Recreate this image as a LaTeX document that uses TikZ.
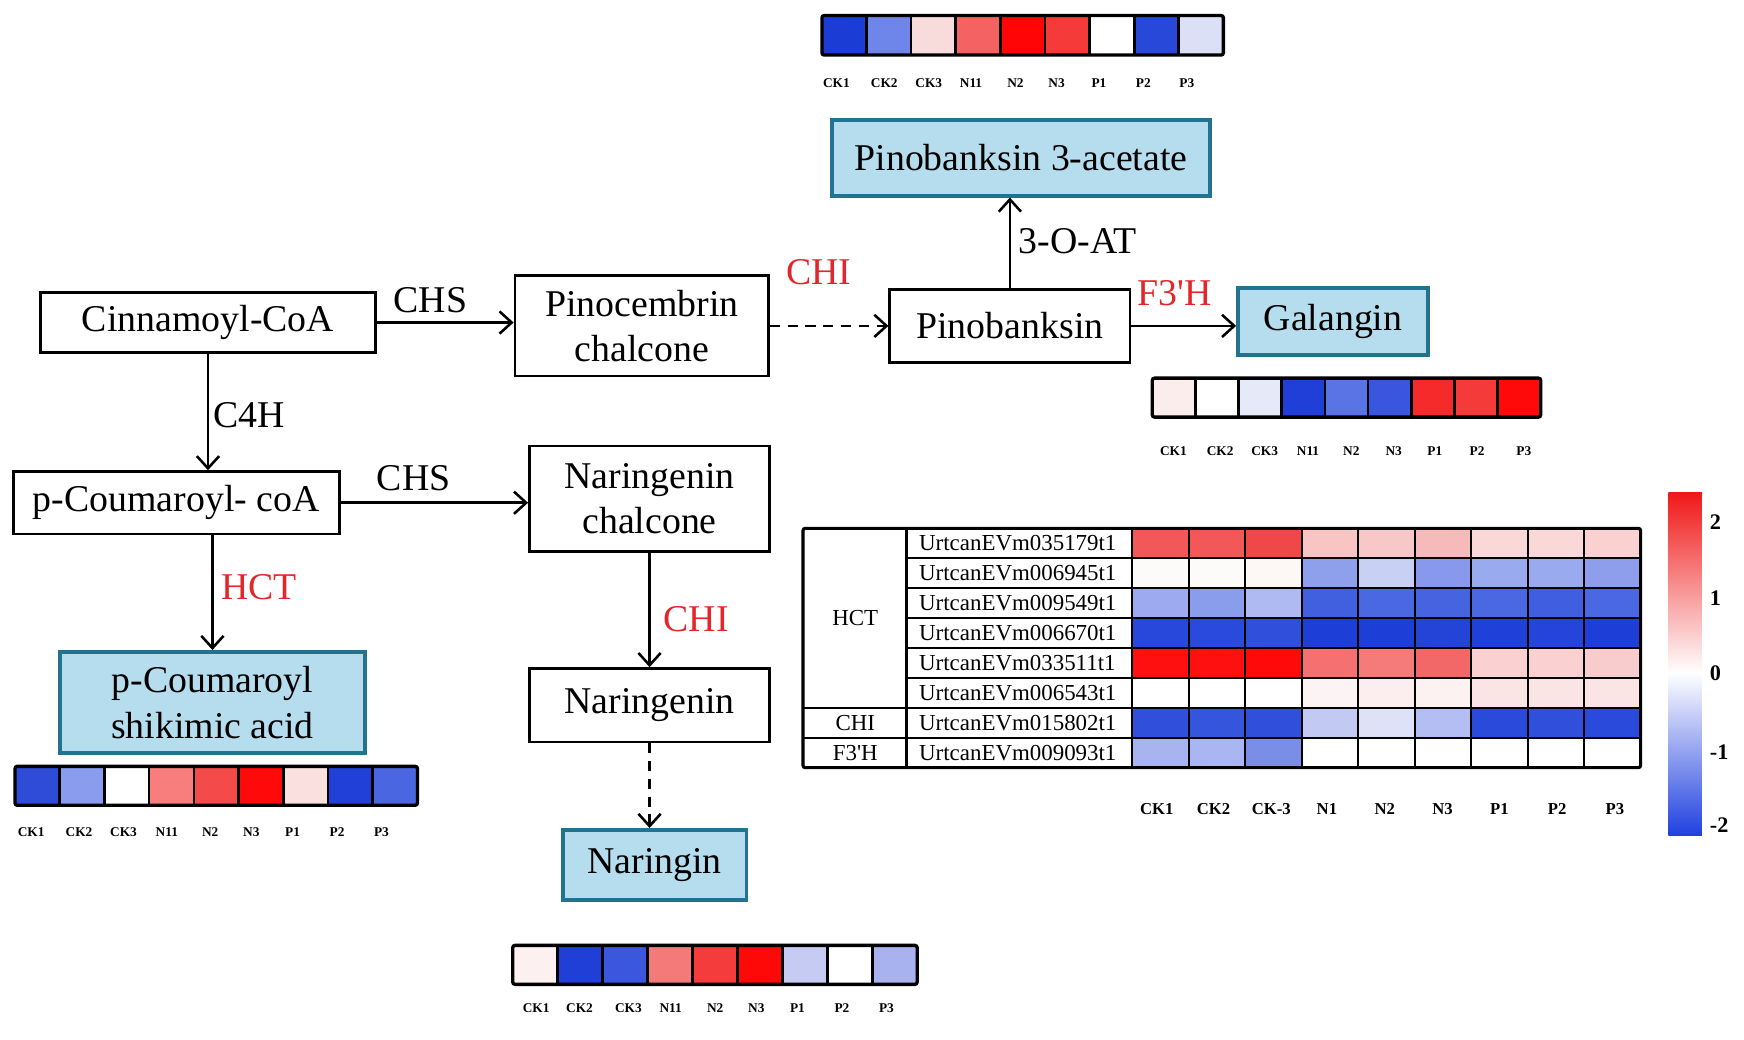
\documentclass[tikz,border=0pt]{standalone}
\usepackage{fontspec}
\setmainfont{Liberation Serif}
\usetikzlibrary{arrows.meta}
\definecolor{hred}{HTML}{E3262B}
\definecolor{bfill}{HTML}{B5DDEE}
\definecolor{bline}{HTML}{23728F}
\tikzset{
  box/.style={draw=black, line width=1.2pt, fill=white, inner sep=0pt, align=center,
    font=\fontsize{17}{20.5}\selectfont},
  bluebox/.style={box, draw=bline, line width=1.6pt, fill=bfill},
  arr/.style={line width=1.15pt, -{Straight Barb[length=5.5pt,width=10pt]}},
  dasharr/.style={arr, dash pattern=on 4.5pt off 3.5pt},
  enz/.style={font=\fontsize{17}{20}\selectfont, inner sep=0pt},
  redenz/.style={enz, text=hred},
  slab/.style={font=\fontsize{6}{6.5}\selectfont\bfseries, inner sep=0pt},
  blab/.style={font=\fontsize{7.5}{8}\selectfont\bfseries, inner sep=0pt},
  gene/.style={font=\fontsize{10.3}{11}\selectfont, inner sep=0pt},
  grid/.style={line width=1pt},
}
\newcommand\hmbar[5]{%
  \foreach \c [count=\k from 0] in {#5} {\definecolor{cc}{HTML}{\c}\fill[cc] ({#1+\k*#2},#3) rectangle ({#1+(\k+1)*#2},#4);}
  \foreach \k in {1,...,8} {\draw[line width=1.2pt] ({#1+\k*#2},#3) -- ({#1+\k*#2},#4);}
  \draw[line width=1.5pt, rounded corners=1pt] (#1,#3) rectangle ({#1+9*#2},#4);
}
\newcommand\hmlabels[2]{%
  \foreach \x/\l in {#2} {\node[slab] at (\x,#1) {\l};}
}
\begin{document}
\begin{tikzpicture}[x=0.5pt,y=-0.5pt]
\useasboundingbox (0,0) rectangle (1568,935);

% pathway nodes
\node[box, minimum width=150.5pt, minimum height=27pt] (cinn) at (187,290) {Cinnamoyl-CoA};
\node[box, minimum width=114pt, minimum height=45pt] (pinoc) at (577,293) {Pinocembrin\\chalcone};
\node[box, minimum width=108pt, minimum height=33pt] (pinob) at (908,293) {Pinobanksin};
\node[bluebox, minimum width=170pt, minimum height=34pt] (acet) at (918,142) {Pinobanksin 3-acetate};
\node[bluebox, minimum width=85.5pt, minimum height=30pt] (gal) at (1198.5,289) {Galangin};
\node[box, minimum width=146.5pt, minimum height=28pt] (pcoum) at (158.5,452) {p-Coumaroyl- coA};
\node[box, minimum width=108pt, minimum height=47.5pt] (narch) at (584,448.5) {Naringenin\\chalcone};
\node[bluebox, minimum width=137pt, minimum height=45.5pt] (shik) at (191,631.5) {p-Coumaroyl\\shikimic acid};
\node[box, minimum width=108pt, minimum height=33pt] (naren) at (584,634) {Naringenin};
\node[bluebox, minimum width=82.5pt, minimum height=31.5pt] (naring) at (588.5,777.5) {Naringin};

% connectors
\draw[arr] (cinn.east) -- (cinn.east -| pinoc.west);
\draw[dasharr] (pinob.west -| pinoc.east) -- (pinob.west);
\draw[arr] (pinob.north) -- (pinob.north |- acet.south);
\draw[arr] (pinob.east) -- (pinob.east -| gal.west);
\draw[arr] (cinn.south) -- (cinn.south |- pcoum.north);
\draw[arr] (pcoum.east) -- (pcoum.east -| narch.west);
\draw[arr] (shik.north |- pcoum.south) -- (shik.north);
\draw[arr] (narch.south) -- (naren.north);
\draw[dasharr] (naren.south) -- (naren.south |- naring.north);

% enzyme labels
\node[enz] (l1) at (387,270) {CHS};
\node[redenz] (l2) at (736,245) {CHI};
\node[enz] (l3) at (969,217) {3-O-AT};
\node[redenz] (l4) at (1056,264) {F3\textquotesingle H};
\node[enz] (l5) at (224,373) {C4H};
\node[enz] (l6) at (372,430) {CHS};
\node[redenz] (l7) at (233,528) {HCT};
\node[redenz] (l8) at (626,557) {CHI};

% small heatmap bars
\hmbar{739}{40.1}{14}{49.5}{1C3CD6,6E86EA,F8DCDC,F56262,FF0505,F53A3A,FFFFFF,2848DA,DCE0F6}
\hmlabels{74.6}{752/CK1,795/CK2,835/CK3,873/N11,913/N2,950/N3,988/P1,1028/P2,1067/P3}
\hmbar{1036}{38.8}{340}{375}{FCEDED,FFFFFF,E6E9F8,1F3FD8,5A74E6,3A56DE,F52A2A,F53A3A,FF0A0A}
\hmlabels{406}{1055/CK1,1097/CK2,1137/CK3,1176/N11,1215/N2,1253/N3,1290/P1,1328/P2,1370/P3}
\hmbar{13.5}{40.2}{689}{724}{2E4CD8,8A9CEE,FFFFFF,F87E7E,F54A4A,FF0A0A,FBE0E0,2040D8,4A66E0}
\hmlabels{748}{28/CK1,71/CK2,111/CK3,150/N11,189/N2,226/N3,263/P1,303/P2,343/P3}
\hmbar{461}{40.4}{850}{885}{FDF0F0,1F3FD6,3B57DE,F47A7A,F53C3C,FF0808,C5CBF3,FFFFFF,A7B2EE}
\hmlabels{906}{482/CK1,521/CK2,565/CK3,603/N11,643/N2,680/N3,717/P1,757/P2,797/P3}

% big heatmap
\foreach \row [count=\r from 0] in {
  {F25858,F25858,F04848,F8C4C4,F8C8C8,F7BABA,FBD8D8,FBD8D8,FBD0D0},
  {FDFAFA,FDFAFA,FDF8F5,8EA0EC,C8D0F4,8898EC,9AAAEE,9AAAEE,8E9EEC},
  {9EAAF0,8A9CEC,B0BAF2,4060E0,4A68E2,4664E0,4A68E2,3F5EE0,4A68E2},
  {2848DC,2A4ADE,3050DC,1E3ED8,1E3ED8,2444D8,2040DA,2444DA,1E3ED8},
  {FF1010,FF1010,FF0A0A,F57070,F57A7A,F26868,FAD0D0,FAD0D0,F8CCCC},
  {FFFFFF,FFFFFF,FFFFFF,FCF4F4,FCEEEE,FCF2F2,FBE4E4,FBE4E4,FBE4E4},
  {3050DC,3555DC,3050DC,C2CAF4,DDE2F8,B4BEF2,2A4ADC,3050DC,2A4ADC},
  {A7B4F0,AAB6F2,7A8EE8,FFFFFF,FFFFFF,FFFFFF,FFFFFF,FFFFFF,FFFFFF}} {
  \foreach \c [count=\k from 0] in \row {
    \definecolor{cc}{HTML}{\c}
    \fill[cc] ({1018+\k*50.78},{475+\r*26.9}) rectangle ({1018+(\k+1)*50.78},{475+(\r+1)*26.9});
  }
}
\foreach \r in {1,...,5} {\draw[grid] (815,{475+\r*26.9}) -- (1475,{475+\r*26.9});}
\foreach \r in {6,7} {\draw[grid] (722,{475+\r*26.9}) -- (1475,{475+\r*26.9});}
\draw[grid] (815,475) -- (815,690.2);
\draw[grid] (1018,475) -- (1018,690.2);
\foreach \k in {1,...,8} {\draw[grid] ({1018+\k*50.78},475) -- ({1018+\k*50.78},690.2);}
\draw[line width=1.4pt, rounded corners=1pt] (722,475) rectangle (1475,690.2);
\foreach \g [count=\r from 0] in {UrtcanEVm035179t1,UrtcanEVm006945t1,UrtcanEVm009549t1,UrtcanEVm006670t1,UrtcanEVm033511t1,UrtcanEVm006543t1,UrtcanEVm015802t1,UrtcanEVm009093t1} {
  \node[gene, anchor=west] at (826,{475+(\r+0.5)*26.9}) {\g};
}
\node[gene] (ghct) at (769,556) {HCT};
\node[gene] (gchi) at (769,650) {CHI};
\node[gene] (gf3h) at (769,677) {F3\textquotesingle H};
\foreach \x/\l in {1040/CK1,1091/CK2,1143/CK-3,1193/N1,1245/N2,1297/N3,1348/P1,1400/P2,1452/P3} {
  \node[blab] at (\x,727) {\l};
}

% colour bar
\shade[top color={rgb,255:red,240;green,24;blue,24}, bottom color=white] (1500,443) rectangle (1530,605);
\shade[top color=white, bottom color={rgb,255:red,32;green,64;blue,224}] (1500,605) rectangle (1530,751);
\foreach \y/\l in {469/2,538/1,605/0,676/-1,742/-2} {
  \node[font=\fontsize{10}{11}\selectfont\bfseries, inner sep=0pt, anchor=west] at (1537,\y) {\l};
}
\end{tikzpicture}
\end{document}
